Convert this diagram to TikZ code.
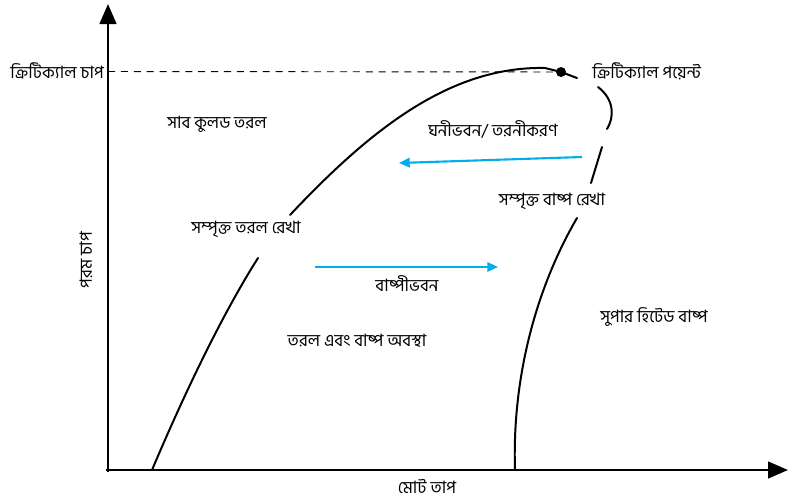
\documentclass[tikz,border=0pt]{standalone}
\usepackage{fontspec}
\newfontfamily\bnfont[Script=Bengali]{Hind Siliguri}
\usetikzlibrary{arrows.meta}
\definecolor{clFlow}{HTML}{00AEEF}
\tikzset{
  axisline/.style={line width=2.1pt, -{Triangle[length=6mm,width=5mm]}},
  satline/.style={line width=1.7pt, line cap=round},
  bntext/.style={font=\bnfont\fontsize{14.5}{17}\selectfont, inner sep=1pt, align=center},
  flow/.style={-{Triangle[length=3.2mm,width=2.8mm]}, line width=1.8pt, draw=clFlow},
  critdot/.style={circle, fill=black, inner sep=0pt, minimum size=3mm},
}

\begin{document}
\begin{tikzpicture}[x=0.03cm, y=-0.03cm]
  \useasboundingbox (0,0) rectangle (788,502);
  % axes
  \coordinate (origin) at (108,470);
  \coordinate (ytip) at (108,4);
  \coordinate (xtip) at (788,470);
  \draw[axisline] (108,472) -- (ytip);
  \draw[axisline] (106,470) -- (xtip);
  \node[bntext] (xlab) at (427,487) {মোট তাপ};
  \node[bntext, rotate=90] (ylab) at (86,260) {পরম চাপ};

  % critical pressure
  \node[critdot] (crit) at (561,72) {};
  \node[bntext, anchor=west] (critpres) at (9,71) {ক্রিটিক্যাল চাপ};
  \draw[line width=0.8pt, dash pattern=on 6pt off 5pt] (108,71.5) -- (crit);
  \node[bntext, anchor=west] (critpt) at (591,71) {ক্রিটিক্যাল পয়েন্ট};

  % saturated liquid line
  \draw[satline] (152,470) .. controls (188,385) and (225,310) .. (258,258);
  \draw[satline] (290,215) .. controls (370,130) and (450,66) .. (545,68) -- (crit.center) -- (577,78);
  % saturated vapour line
  \draw[satline] (598,87) .. controls (615,100) and (614,118) .. (607,129);
  \draw[satline] (602,147) -- (591,183);
  \draw[satline] (577,218) .. controls (535,290) and (512,380) .. (515,470);

  % regions and lines
  \node[bntext] (subcool) at (217,124) {সাব কুলড তরল};
  \node[bntext] (cond) at (493,129) {ঘনীভবন/ তরনীকরণ};
  \node[bntext] (satvap) at (552,201) {সম্পৃক্ত বাষ্প রেখা};
  \node[bntext] (satliq) at (246,229) {সম্পৃক্ত তরল রেখা};
  \node[bntext] (evap) at (407,284) {বাষ্পীভবন};
  \node[bntext] (mix) at (357,341) {তরল এবং বাষ্প অবস্থা};
  \node[bntext] (superheat) at (654,317) {সুপার হিটেড বাষ্প};

  % process arrows
  \coordinate (condA) at (582,157);
  \coordinate (condB) at (399,163);
  \coordinate (evapA) at (315,267);
  \coordinate (evapB) at (498,267);
  \draw[flow] (condA) -- (condB);
  \draw[flow] (evapA) -- (evapB);
\end{tikzpicture}
\end{document}
